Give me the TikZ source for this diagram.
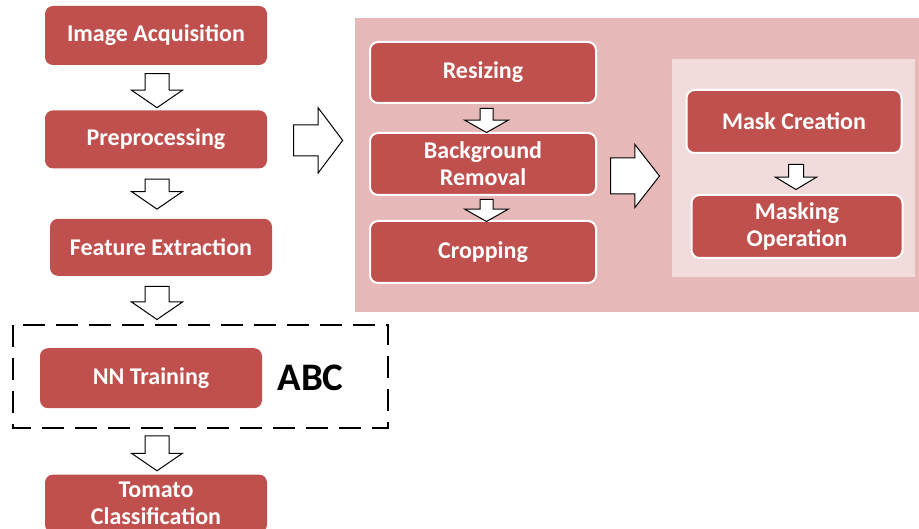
\documentclass[tikz,border=0pt]{standalone}
\usepackage{fontspec}
\setmainfont{Carlito}
\usetikzlibrary{positioning,shapes.arrows}
\definecolor{boxred}{HTML}{C0504D}
\definecolor{panelpink}{HTML}{E6B9B8}
\definecolor{innerpink}{HTML}{F2DCDB}
\tikzset{
    %Define standard stage box
    stage/.style={
      rectangle,
      rounded corners=8pt,
      fill=boxred,
      text=white,
      font=\bfseries\fontsize{24}{27}\selectfont,
      align=center,
      inner sep=0pt,
      minimum width=222pt},
    substage/.style={
      stage,
      draw=white, line width=2pt},
    %Define block arrows
    fatarrow/.style={
      single arrow,
      draw=black, fill=white, line width=1pt,
      inner sep=0pt,
      anchor=tail},
    bigdown/.style={
      fatarrow, rotate=-90,
      inner ysep=11.5pt,
      single arrow head extend=13.5pt,
      single arrow tip angle=111},
    smalldown/.style={
      fatarrow, rotate=-90,
      inner ysep=6pt,
      single arrow head extend=15.5pt,
      single arrow tip angle=121},
    bigright/.style={
      fatarrow,
      inner ysep=15pt,
      single arrow head extend=17pt,
      single arrow tip angle=106},
}

\begin{document}
\begin{tikzpicture}[x=1pt,y=1pt]
    \useasboundingbox (0,0) rectangle (919,-529);
    % panels
    \fill[panelpink] (355,-18) rectangle (919,-312);
    \fill[innerpink] (672,-59) rectangle (915,-277);
    % main column
    \node (acq) [stage, minimum height=59pt] at (156,-35.5)
          {Image Acquisition};
    \node (pre) [stage, minimum height=58pt] [below=45pt of acq]
          {Preprocessing};
    \node (feat) [stage, minimum height=57pt] [below=50pt of pre, xshift=5pt]
          {Feature Extraction};
    \node (nn) [stage, minimum height=60pt] [below=72pt of feat, xshift=-10pt]
          {NN Training};
    \node (abc) [right=15pt of nn, inner sep=0pt, font=\bfseries\fontsize{39}{39}\selectfont]
          {ABC};
    \node (tom) [stage, minimum height=58pt] [below=66pt of nn, xshift=5pt]
          {Tomato\\Classification};
    \draw[line width=2.5pt, dash pattern=on 22pt off 11pt] (13,-325) rectangle (388,-428);
    \node (a1) [bigdown, minimum height=34pt] at ([xshift=1pt,yshift=-8pt]acq.south) {};
    \node (a2) [bigdown, minimum height=30pt] at ([xshift=1pt,yshift=-10pt]pre.south) {};
    \node (a3) [bigdown, minimum height=33pt] at ([xshift=-4pt,yshift=-10pt]feat.south) {};
    \node (a4) [bigdown, minimum height=35pt, anchor=tip] at ([xshift=1pt,yshift=3pt]tom.north) {};
    % preprocessing steps
    \node (resize) [substage, minimum width=226pt, minimum height=61pt] at (483,-72.5)
          {Resizing};
    \node (bg) [substage, minimum width=226pt, minimum height=62pt] [below=28pt of resize]
          {Background\\Removal};
    \node (crop) [substage, minimum width=226pt, minimum height=62pt] [below=24pt of bg]
          {Cropping};
    \node (mask) [substage, minimum width=215pt, minimum height=63pt] at (794,-121.5)
          {Mask Creation};
    \node (mop) [substage, minimum width=211pt, minimum height=63pt] [below=40pt of mask, xshift=3pt]
          {Masking\\Operation};
    \node (s1) [smalldown, minimum height=24pt] at ([xshift=3.5pt,yshift=-4pt]resize.south) {};
    \node (s2) [smalldown, minimum height=22pt] at ([xshift=3.5pt,yshift=-3pt]bg.south) {};
    \node (s3) [smalldown, minimum height=25pt, inner ysep=7pt, single arrow head extend=13pt,
          single arrow tip angle=118] at ([xshift=2pt,yshift=-10pt]mask.south) {};
    \node (r1) [bigright, minimum height=49pt] at ([xshift=26pt,yshift=-1pt]pre.east) {};
    \node (r2) [bigright, minimum height=49pt, inner ysep=17.5pt, single arrow head extend=13.5pt,
          single arrow tip angle=104] at ([xshift=13pt,yshift=-12pt]bg.east) {};
\end{tikzpicture}
\end{document}
